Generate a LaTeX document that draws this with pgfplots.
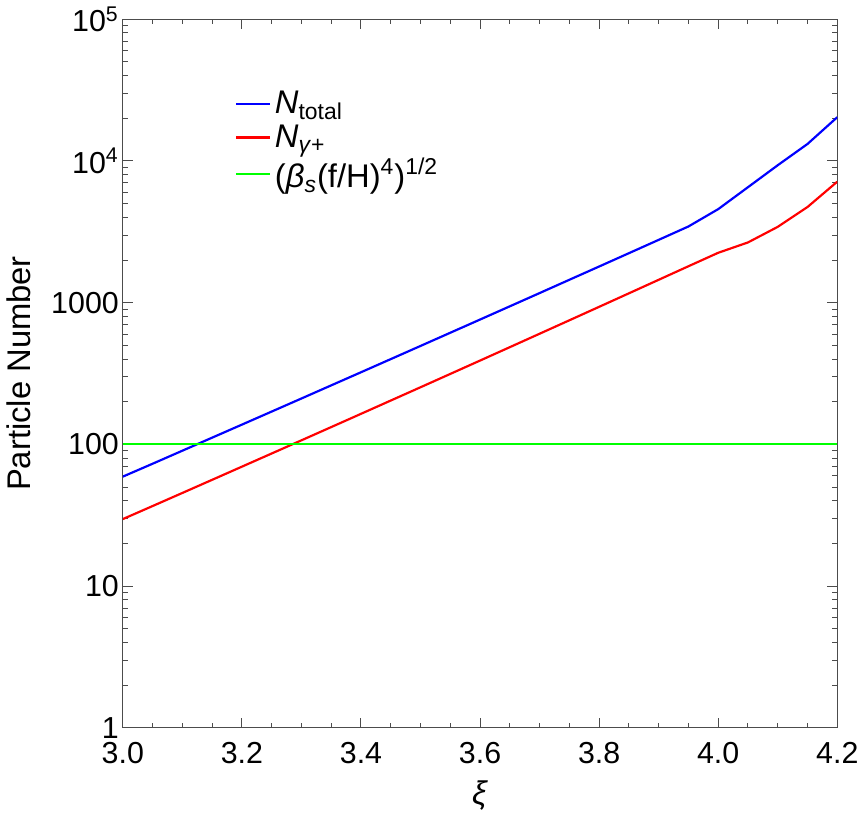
\documentclass[border=0pt]{standalone}
\usepackage{fontspec}
\setmainfont{Liberation Sans}
\usepackage{pgfplots}
\usepackage{pgfplotstable}
\pgfplotsset{compat=1.18}

% xi, N_total
\pgfplotstableread{
xi    N
3.00  59.2
3.05  73.0
3.10  90.2
3.15  111.5
3.20  137.8
3.25  170.4
3.30  210.7
3.35  260.8
3.40  322.7
3.45  399.6
3.50  494.9
3.55  613.3
3.60  760.0
3.65  942.3
3.70  1168.5
3.75  1450.3
3.80  1799.4
3.85  2234
3.90  2775
3.95  3449
4.00  4571
4.05  6530
4.10  9330
4.15  13183
4.20  20370
}\totaltable

% xi, N_gamma+
\pgfplotstableread{
xi    N
3.00  29.7
3.05  36.7
3.10  45.4
3.15  56.2
3.20  69.6
3.25  86.2
3.30  106.8
3.35  132.4
3.40  164.2
3.45  203.8
3.50  252.9
3.55  314.1
3.60  390.3
3.65  485.2
3.70  603.5
3.75  750.8
3.80  934.5
3.85  1163.8
3.90  1450
3.95  1807
4.00  2249
4.05  2661
4.10  3428
4.15  4732
4.20  7145
}\gammatable

\begin{document}
\begin{tikzpicture}
\begin{axis}[
  scale only axis,
  width=360pt, height=357pt,
  xmin=3, xmax=4.2,
  ymode=log, log basis y=10,
  ymin=1, ymax=1e5,
  axis line style={black!70, line width=0.6pt},
  tick style={black!70, line width=0.5pt},
  tick align=inside,
  major tick length=5pt,
  minor tick length=2.5pt,
  xtick={3,3.2,3.4,3.6,3.8,4,4.2},
  minor x tick num=3,
  ytick={1,10,100,1000,10000,100000},
  yticklabels={1,10,100,1000,10\textsuperscript{4},10\textsuperscript{5}},
  minor ytick={2,3,4,5,6,7,8,9,20,30,40,50,60,70,80,90,200,300,400,500,600,700,800,900,2000,3000,4000,5000,6000,7000,8000,9000,20000,30000,40000,50000,60000,70000,80000,90000},
  /pgf/number format/assume math mode=true,
  xticklabel style={/pgf/number format/fixed, /pgf/number format/fixed zerofill, /pgf/number format/precision=1, yshift=-4pt},
  yticklabel style={xshift=1.5pt},
  ticklabel style={font=\fontsize{15.3}{18}\selectfont, text=black},
  xlabel={\textit{ξ}},
  ylabel={Particle Number},
  label style={font=\fontsize{16.5}{20}\selectfont},
  xlabel style={at={(axis description cs:0.5,0)}, anchor=center, yshift=-34pt},
  ylabel style={at={(axis description cs:0,0.5)}, anchor=center, yshift=52.5pt},
  legend style={draw=none, fill=none, at={(axis description cs:0.148,0.91)}, anchor=north west,
    font=\fontsize{16.5}{18}\selectfont, row sep=0pt, cells={anchor=west}},
  legend cell align=left,
]
\addplot[blue, line width=1.1pt] table[x=xi, y=N] {\totaltable};
\addlegendentry{\textit{N}\textsubscript{total}}
\addplot[red, line width=1.1pt] table[x=xi, y=N] {\gammatable};
\addlegendentry{\textit{N}\textsubscript{\textit{γ}+}}
\addplot[green, line width=1.1pt] coordinates {(3,100) (4.2,100)};
\addlegendentry{(\textit{β}\textsubscript{\textit{s}}(f/H)\textsuperscript{4})\textsuperscript{1/2}}
\end{axis}
\end{tikzpicture}
\end{document}
